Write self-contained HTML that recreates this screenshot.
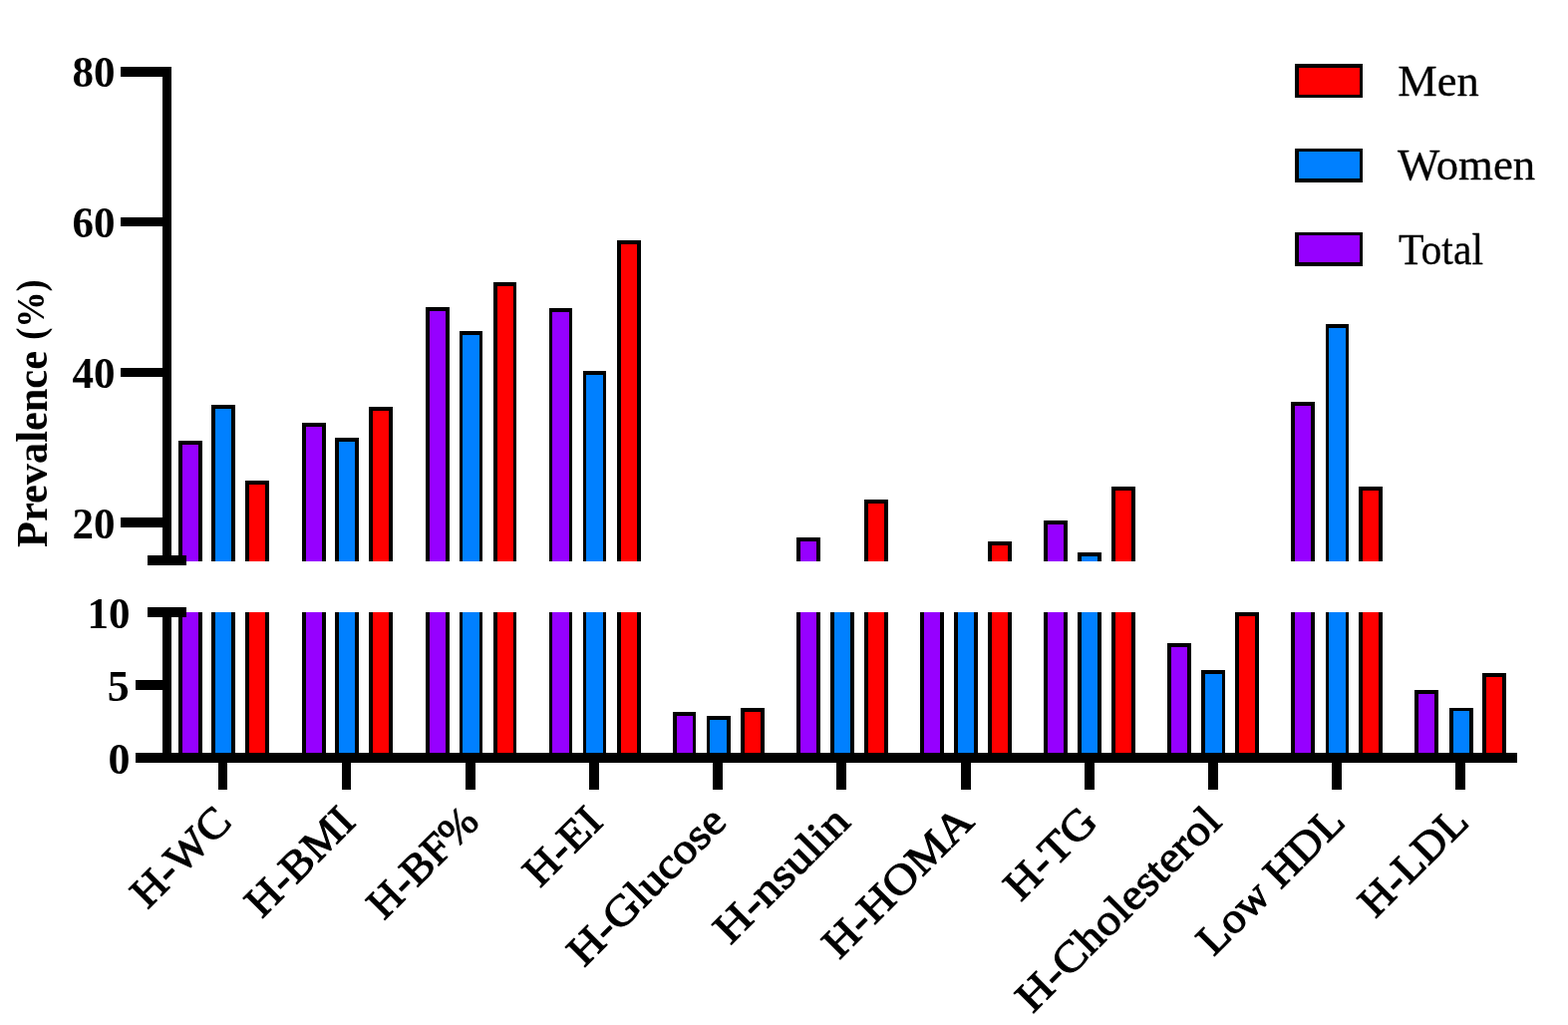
<!DOCTYPE html>
<html lang="en">
<head>
<meta charset="utf-8">
<title>Prevalence (%)</title>
<style>
html,body{margin:0;padding:0;background:#fff;}
body{width:1573px;height:1028px;overflow:hidden;}
svg{display:block;}
text{font-family:"Liberation Serif","DejaVu Serif",serif;font-size:44px;fill:#000;}
text.b{font-weight:bold;}
text.x{font-weight:normal;font-size:43px;stroke:#000;stroke-width:1.1px;stroke-linejoin:round;}
text.r{font-weight:normal;font-size:43.6px;stroke:#000;stroke-width:0.3px;stroke-linejoin:round;}
</style>
</head>
<body>
<svg width="1573" height="1028" viewBox="0 0 1573 1028" shape-rendering="crispEdges">
<rect x="0" y="0" width="1573" height="1028" fill="#fff"/>
<g id="bars">
<rect x="179" y="442" width="24" height="121" fill="#000"/><rect x="183" y="446" width="16" height="117" fill="#9600ff"/>
<rect x="179" y="614" width="24" height="141" fill="#000"/><rect x="183" y="614" width="16" height="141" fill="#9600ff"/>
<rect x="212" y="406" width="24" height="157" fill="#000"/><rect x="216" y="410" width="16" height="153" fill="#0080ff"/>
<rect x="212" y="614" width="24" height="141" fill="#000"/><rect x="216" y="614" width="16" height="141" fill="#0080ff"/>
<rect x="246" y="482" width="24" height="81" fill="#000"/><rect x="250" y="486" width="16" height="77" fill="#ff0000"/>
<rect x="246" y="614" width="24" height="141" fill="#000"/><rect x="250" y="614" width="16" height="141" fill="#ff0000"/>
<rect x="303" y="424" width="24" height="139" fill="#000"/><rect x="307" y="428" width="16" height="135" fill="#9600ff"/>
<rect x="303" y="614" width="24" height="141" fill="#000"/><rect x="307" y="614" width="16" height="141" fill="#9600ff"/>
<rect x="336" y="439" width="24" height="124" fill="#000"/><rect x="340" y="443" width="16" height="120" fill="#0080ff"/>
<rect x="336" y="614" width="24" height="141" fill="#000"/><rect x="340" y="614" width="16" height="141" fill="#0080ff"/>
<rect x="370" y="408" width="24" height="155" fill="#000"/><rect x="374" y="412" width="16" height="151" fill="#ff0000"/>
<rect x="370" y="614" width="24" height="141" fill="#000"/><rect x="374" y="614" width="16" height="141" fill="#ff0000"/>
<rect x="427" y="308" width="24" height="255" fill="#000"/><rect x="431" y="312" width="16" height="251" fill="#9600ff"/>
<rect x="427" y="614" width="24" height="141" fill="#000"/><rect x="431" y="614" width="16" height="141" fill="#9600ff"/>
<rect x="461" y="332" width="23" height="231" fill="#000"/><rect x="464" y="336" width="17" height="227" fill="#0080ff"/>
<rect x="461" y="614" width="23" height="141" fill="#000"/><rect x="464" y="614" width="17" height="141" fill="#0080ff"/>
<rect x="495" y="283" width="23" height="280" fill="#000"/><rect x="499" y="287" width="16" height="276" fill="#ff0000"/>
<rect x="495" y="614" width="23" height="141" fill="#000"/><rect x="499" y="614" width="16" height="141" fill="#ff0000"/>
<rect x="551" y="309" width="23" height="254" fill="#000"/><rect x="554" y="313" width="17" height="250" fill="#9600ff"/>
<rect x="551" y="614" width="23" height="141" fill="#000"/><rect x="554" y="614" width="17" height="141" fill="#9600ff"/>
<rect x="585" y="372" width="23" height="191" fill="#000"/><rect x="588" y="376" width="17" height="187" fill="#0080ff"/>
<rect x="585" y="614" width="23" height="141" fill="#000"/><rect x="588" y="614" width="17" height="141" fill="#0080ff"/>
<rect x="619" y="241" width="24" height="322" fill="#000"/><rect x="623" y="245" width="16" height="318" fill="#ff0000"/>
<rect x="619" y="614" width="24" height="141" fill="#000"/><rect x="623" y="614" width="16" height="141" fill="#ff0000"/>
<rect x="675" y="714" width="23" height="41" fill="#000"/><rect x="679" y="718" width="16" height="37" fill="#9600ff"/>
<rect x="709" y="718" width="24" height="37" fill="#000"/><rect x="712" y="722" width="17" height="33" fill="#0080ff"/>
<rect x="743" y="710" width="24" height="45" fill="#000"/><rect x="747" y="714" width="16" height="41" fill="#ff0000"/>
<rect x="799" y="539" width="24" height="24" fill="#000"/><rect x="803" y="543" width="16" height="20" fill="#9600ff"/>
<rect x="799" y="614" width="24" height="141" fill="#000"/><rect x="803" y="614" width="16" height="141" fill="#9600ff"/>
<rect x="833" y="614" width="24" height="141" fill="#000"/><rect x="837" y="614" width="16" height="141" fill="#0080ff"/>
<rect x="867" y="501" width="24" height="62" fill="#000"/><rect x="871" y="505" width="16" height="58" fill="#ff0000"/>
<rect x="867" y="614" width="24" height="141" fill="#000"/><rect x="871" y="614" width="16" height="141" fill="#ff0000"/>
<rect x="923" y="614" width="24" height="141" fill="#000"/><rect x="927" y="614" width="16" height="141" fill="#9600ff"/>
<rect x="957" y="614" width="24" height="141" fill="#000"/><rect x="961" y="614" width="16" height="141" fill="#0080ff"/>
<rect x="991" y="543" width="24" height="20" fill="#000"/><rect x="995" y="547" width="16" height="16" fill="#ff0000"/>
<rect x="991" y="614" width="24" height="141" fill="#000"/><rect x="995" y="614" width="16" height="141" fill="#ff0000"/>
<rect x="1047" y="522" width="24" height="41" fill="#000"/><rect x="1051" y="526" width="16" height="37" fill="#9600ff"/>
<rect x="1047" y="614" width="24" height="141" fill="#000"/><rect x="1051" y="614" width="16" height="141" fill="#9600ff"/>
<rect x="1081" y="554" width="24" height="9" fill="#000"/><rect x="1085" y="558" width="16" height="5" fill="#0080ff"/>
<rect x="1081" y="614" width="24" height="141" fill="#000"/><rect x="1085" y="614" width="16" height="141" fill="#0080ff"/>
<rect x="1115" y="488" width="24" height="75" fill="#000"/><rect x="1119" y="492" width="16" height="71" fill="#ff0000"/>
<rect x="1115" y="614" width="24" height="141" fill="#000"/><rect x="1119" y="614" width="16" height="141" fill="#ff0000"/>
<rect x="1171" y="645" width="24" height="110" fill="#000"/><rect x="1175" y="649" width="16" height="106" fill="#9600ff"/>
<rect x="1205" y="672" width="24" height="83" fill="#000"/><rect x="1209" y="676" width="17" height="79" fill="#0080ff"/>
<rect x="1239" y="614" width="24" height="141" fill="#000"/><rect x="1243" y="618" width="16" height="137" fill="#ff0000"/>
<rect x="1295" y="403" width="24" height="160" fill="#000"/><rect x="1299" y="407" width="16" height="156" fill="#9600ff"/>
<rect x="1295" y="614" width="24" height="141" fill="#000"/><rect x="1299" y="614" width="16" height="141" fill="#9600ff"/>
<rect x="1330" y="325" width="23" height="238" fill="#000"/><rect x="1333" y="329" width="17" height="234" fill="#0080ff"/>
<rect x="1330" y="614" width="23" height="141" fill="#000"/><rect x="1333" y="614" width="17" height="141" fill="#0080ff"/>
<rect x="1363" y="488" width="24" height="75" fill="#000"/><rect x="1367" y="492" width="16" height="71" fill="#ff0000"/>
<rect x="1363" y="614" width="24" height="141" fill="#000"/><rect x="1367" y="614" width="16" height="141" fill="#ff0000"/>
<rect x="1419" y="692" width="24" height="63" fill="#000"/><rect x="1423" y="696" width="16" height="59" fill="#9600ff"/>
<rect x="1454" y="710" width="24" height="45" fill="#000"/><rect x="1458" y="713" width="16" height="42" fill="#0080ff"/>
<rect x="1487" y="675" width="24" height="80" fill="#000"/><rect x="1491" y="679" width="16" height="76" fill="#ff0000"/>
</g>
<g id="axes">
<rect x="163" y="67" width="9" height="495" fill="#000"/>
<rect x="163" y="614" width="9" height="146" fill="#000"/>
<rect x="121" y="67" width="46" height="10" fill="#000"/>
<rect x="121" y="218" width="46" height="9" fill="#000"/>
<rect x="121" y="369" width="46" height="9" fill="#000"/>
<rect x="121" y="519" width="46" height="10" fill="#000"/>
<rect x="148" y="557" width="39" height="10" fill="#000"/>
<rect x="148" y="609" width="39" height="10" fill="#000"/>
<rect x="136" y="682" width="30" height="10" fill="#000"/>
<rect x="136" y="755" width="1386" height="10" fill="#000"/>
<rect x="219" y="760" width="9" height="32" fill="#000"/>
<rect x="343" y="760" width="9" height="32" fill="#000"/>
<rect x="467" y="760" width="10" height="32" fill="#000"/>
<rect x="591" y="760" width="10" height="32" fill="#000"/>
<rect x="715" y="760" width="10" height="32" fill="#000"/>
<rect x="839" y="760" width="10" height="32" fill="#000"/>
<rect x="964" y="760" width="10" height="32" fill="#000"/>
<rect x="1088" y="760" width="10" height="32" fill="#000"/>
<rect x="1212" y="760" width="10" height="32" fill="#000"/>
<rect x="1336" y="760" width="10" height="32" fill="#000"/>
<rect x="1460" y="760" width="10" height="32" fill="#000"/>
</g>
<g id="ylabels">
<text class="b" style="font-size:43.4px" x="115.5" y="86.7" text-anchor="end" textLength="43" lengthAdjust="spacingAndGlyphs">80</text>
<text class="b" style="font-size:43.4px" x="115.5" y="237.7" text-anchor="end" textLength="43" lengthAdjust="spacingAndGlyphs">60</text>
<text class="b" style="font-size:43.4px" x="115.5" y="388.5" text-anchor="end" textLength="43" lengthAdjust="spacingAndGlyphs">40</text>
<text class="b" style="font-size:43.4px" x="115.5" y="539.5" text-anchor="end" textLength="43" lengthAdjust="spacingAndGlyphs">20</text>
<text class="b" style="font-size:43.4px" x="130.5" y="629.7" text-anchor="end" textLength="43" lengthAdjust="spacingAndGlyphs">10</text>
<text class="b" style="font-size:43.4px" x="129.7" y="702.7" text-anchor="end" textLength="22" lengthAdjust="spacingAndGlyphs">5</text>
<text class="b" style="font-size:43.4px" x="130.5" y="775.7" text-anchor="end" textLength="22" lengthAdjust="spacingAndGlyphs">0</text>
</g>
<g id="xlabels">
<text class="x" transform="translate(234.2 826.2) rotate(-45)" text-anchor="end" textLength="122" lengthAdjust="spacingAndGlyphs">H-WC</text>
<text class="x" transform="translate(358.3 826.2) rotate(-45)" text-anchor="end" textLength="135" lengthAdjust="spacingAndGlyphs">H-BMI</text>
<text class="x" transform="translate(482.4 826.2) rotate(-45)" text-anchor="end" textLength="137.5" lengthAdjust="spacingAndGlyphs">H-BF%</text>
<text class="x" transform="translate(606.5 826.2) rotate(-45)" text-anchor="end" textLength="91.5" lengthAdjust="spacingAndGlyphs">H-EI</text>
<text class="x" transform="translate(730.6 826.2) rotate(-45)" text-anchor="end" textLength="204.5" lengthAdjust="spacingAndGlyphs">H-Glucose</text>
<text class="x" transform="translate(854.7 826.2) rotate(-45)" text-anchor="end" textLength="172.5" lengthAdjust="spacingAndGlyphs">H-nsulin</text>
<text class="x" transform="translate(978.8 826.2) rotate(-45)" text-anchor="end" textLength="193.5" lengthAdjust="spacingAndGlyphs">H-HOMA</text>
<text class="x" transform="translate(1102.9 826.2) rotate(-45)" text-anchor="end" textLength="111.5" lengthAdjust="spacingAndGlyphs">H-TG</text>
<text class="x" transform="translate(1227.0 826.2) rotate(-45)" text-anchor="end" textLength="270" lengthAdjust="spacingAndGlyphs">H-Cholesterol</text>
<text class="x" transform="translate(1351.1 826.2) rotate(-45)" text-anchor="end" textLength="189" lengthAdjust="spacingAndGlyphs">Low HDL</text>
<text class="x" transform="translate(1475.2 826.2) rotate(-45)" text-anchor="end" textLength="135" lengthAdjust="spacingAndGlyphs">H-LDL</text>
</g>
<g id="title">
<text class="b" transform="translate(47 549) rotate(-90)"><tspan id="t1" x="0" y="0" textLength="197" lengthAdjust="spacingAndGlyphs">Prevalence</tspan> <tspan id="t2" x="208.2" y="-3" font-size="41" textLength="60.5" lengthAdjust="spacingAndGlyphs">(%)</tspan></text>
</g>
<g id="legend">
<rect x="1299" y="64" width="68" height="34" fill="#000"/><rect x="1303" y="68" width="61" height="27" fill="#ff0000"/>
<text class="r" x="1402.2" y="95.9" textLength="81.5" lengthAdjust="spacingAndGlyphs">Men</text>
<rect x="1299" y="149" width="68" height="34" fill="#000"/><rect x="1303" y="152" width="61" height="27" fill="#0080ff"/>
<text class="r" x="1402" y="180.2" textLength="138.2" lengthAdjust="spacingAndGlyphs">Women</text>
<rect x="1299" y="233" width="68" height="34" fill="#000"/><rect x="1303" y="236" width="61" height="27" fill="#9600ff"/>
<text class="r" x="1403" y="264.6" textLength="85" lengthAdjust="spacingAndGlyphs">Total</text>
</g>
</svg>
</body>
</html>
